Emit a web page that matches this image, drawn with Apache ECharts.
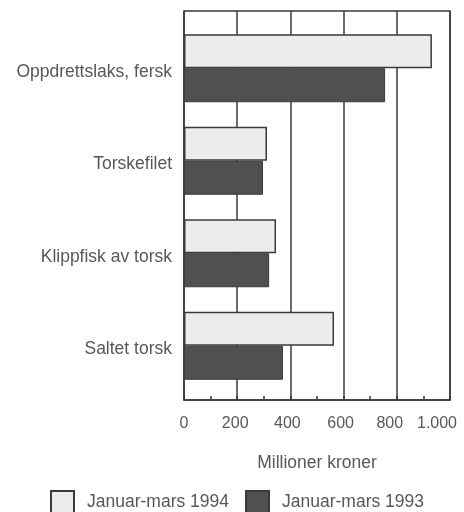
<!DOCTYPE html>
<html>
<head>
<meta charset="utf-8">
<script src="https://cdn.jsdelivr.net/npm/echarts@6/dist/echarts.min.js"></script>
<style>
  html, body { margin: 0; padding: 0; background: #fff; }
  #chart { width: 464px; height: 512px; }
</style>
</head>
<body>
<div id="chart"></div>
<script>
const categories = ['Oppdrettslaks, fersk', 'Torskefilet', 'Klippfisk av torsk', 'Saltet torsk'];
const values1994 = [932, 312, 346, 564];
const values1993 = [756, 297, 320, 372];
const seriesNames = ['Januar-mars 1994', 'Januar-mars 1993'];

const textColor = '#585858';
const lineColor = '#3a3a3a';
const fontFamily = 'Liberation Sans, Arial, sans-serif';
const fontSize = 17.5;

let chartDom = document.getElementById('chart');
let myChart = echarts.init(chartDom);
let option;

const barOptions = {
    type: 'bar',
    xAxisIndex: 1,
    yAxisIndex: 1,
    barWidth: 34,
    barGap: '0%'
};

// the printed tick labels drift a little to the left towards the right end
const labelShift = { 0: 0, 200: 4, 400: 6, 600: 6, 800: 14, 1000: 26 };
const tickRich = {};
Object.keys(labelShift).forEach(k => {
    tickRich['t' + k] = { color: textColor, fontSize: 16, fontFamily, padding: [0, labelShift[k], 0, 0] };
});

function formatTick(v) {
    let s = v >= 1000 ? String(v).replace(/(\d)(\d{3})$/, '$1.$2') : String(v);
    return '{t' + v + '|' + s + '}';
}

// grid 0 draws the frame, gridlines and x scale; grid 1 holds the bars
option = {
    animation: false,
    textStyle: { fontFamily },
    grid: [
        {
            left: 184, right: 14, top: 11, bottom: 112,
            outerBoundsMode: 'none',
            show: true,
            borderColor: lineColor,
            borderWidth: 1.5
        },
        {
            left: 184, right: 14, top: 22, bottom: 120,
            outerBoundsMode: 'none'
        }
    ],
    legend: {
        left: 45,
        top: 485,
        icon: 'rect',
        itemWidth: 23,
        itemHeight: 22,
        itemGap: 16,
        textStyle: { color: textColor, fontSize, fontFamily, padding: [0, 0, 0, 8] },
        data: seriesNames
    },
    xAxis: [
        {
            gridIndex: 0,
            type: 'value',
            min: 0,
            max: 1000,
            interval: 200,
            name: 'Millioner kroner',
            nameLocation: 'middle',
            nameGap: 54,
            nameTextStyle: { color: textColor, fontSize, fontFamily },
            axisLine: { show: true, lineStyle: { color: lineColor, width: 1.5 } },
            axisTick: { show: true, inside: true, length: 4, lineStyle: { color: lineColor, width: 1.5 } },
            minorTick: { show: true, splitNumber: 2, length: 4, lineStyle: { color: lineColor, width: 1.5 } },
            splitLine: { show: true, lineStyle: { color: lineColor, width: 1.5 } },
            axisLabel: {
                color: textColor,
                fontSize: 16,
                margin: 16,
                formatter: formatTick,
                rich: tickRich
            }
        },
        {
            gridIndex: 1,
            type: 'value',
            min: 0,
            max: 1000,
            show: false
        }
    ],
    yAxis: [
        {
            gridIndex: 0,
            type: 'value',
            show: false
        },
        {
            gridIndex: 1,
            type: 'category',
            inverse: true,
            data: categories,
            axisLine: { show: false },
            axisTick: { show: false },
            axisLabel: { color: textColor, fontSize, margin: 12, verticalAlign: 'top', lineHeight: 7 }
        }
    ],
    series: [
        {
            name: seriesNames[0],
            data: values1994,
            itemStyle: { color: '#ececec', borderColor: lineColor, borderWidth: 1.5 },
            ...barOptions
        },
        {
            name: seriesNames[1],
            data: values1993,
            itemStyle: { color: '#505050', borderColor: '#3a3a3a', borderWidth: 1 },
            ...barOptions
        }
    ]
};

option && myChart.setOption(option);
</script>
</body>
</html>
